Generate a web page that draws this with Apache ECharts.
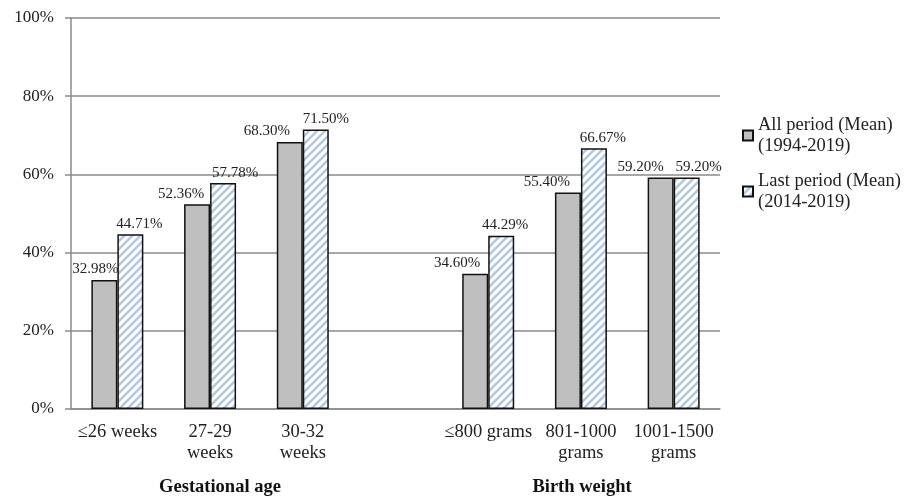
<!DOCTYPE html>
<html lang="en">
<head>
    <meta charset="UTF-8">
    <title>Survival by gestational age and birth weight</title>
    <script src="https://cdn.jsdelivr.net/npm/echarts@6/dist/echarts.min.js"></script>
    <style>
        body {
            padding: 0;
            margin: 0;
            border: none;
            background: #fff;
        }
    </style>
</head>
<body>
<div style="width: 909px;height: 499px;" id="ec"></div>
<script>
    // 数据
    const categories = ['≤26 weeks', '27-29\nweeks', '30-32\nweeks', '', '≤800 grams', '801-1000\ngrams', '1001-1500\ngrams'];
    const allPeriod = [32.98, 52.36, 68.30, null, 34.60, 55.40, 59.20];
    const lastPeriod = [44.71, 57.78, 71.50, null, 44.29, 66.67, 59.20];
    const seriesNames = ['All period (Mean)\n(1994-2019)', 'Last period (Mean)\n(2014-2019)'];
    const yTicks = [0, 20, 40, 60, 80, 100];

    // 标签左右偏移 (避免重叠)
    const shiftAll = [-9, -16, -23, 0, -18, -21, -20];
    const shiftLast = [9, 12, 10, 0, 4, 9, 12];

    const font = 'Liberation Serif';

    // 斜线填充
    function hatch() {
        let s = 8;
        let c = document.createElement('canvas');
        c.width = s;
        c.height = s;
        let ctx = c.getContext('2d');
        ctx.fillStyle = '#fff';
        ctx.fillRect(0, 0, s, s);
        ctx.strokeStyle = '#b4c8e2';
        ctx.lineWidth = 2.6;
        ctx.beginPath();
        ctx.moveTo(-1, s + 1); ctx.lineTo(s + 1, -1);
        ctx.moveTo(-1, 1); ctx.lineTo(1, -1);
        ctx.moveTo(s - 1, s + 1); ctx.lineTo(s + 1, s - 1);
        ctx.stroke();
        return c;
    }

    function withLabels(values, shifts) {
        return values.map((v, i) => v === null ? '-' : {
            value: v,
            label: {offset: [shifts[i], 0]}
        });
    }

    let ec = echarts.init(document.getElementById('ec'));
    let labelStyle = {
        show: true,
        position: 'top',
        distance: 3,
        fontFamily: font,
        fontSize: 15,
        color: '#222',
        formatter: p => p.value.toFixed(2) + '%'
    };
    let option = {
        animation: false,
        backgroundColor: '#fff',
        grid: {
            left: 71,
            right: 189,
            top: 18,
            bottom: 90
        },
        legend: {
            orient: 'vertical',
            left: 737,
            top: 99,
            itemWidth: 10,
            itemHeight: 10,
            itemGap: -7,
            icon: 'rect',
            textStyle: {
                fontFamily: font,
                fontSize: 18.5,
                lineHeight: 21,
                color: '#222',
                padding: [21, 0, 0, 0]
            },
            data: seriesNames
        },
        xAxis: {
            type: 'category',
            data: categories,
            axisTick: {show: false},
            axisLine: {lineStyle: {color: '#8a8a8a', width: 1.5}},
            axisLabel: {
                interval: 0,
                margin: 13,
                fontFamily: font,
                fontSize: 18.5,
                lineHeight: 21,
                color: '#222'
            }
        },
        yAxis: {
            type: 'value',
            min: yTicks[0],
            max: yTicks[yTicks.length - 1],
            interval: yTicks[1] - yTicks[0],
            axisLine: {show: true, lineStyle: {color: '#8a8a8a', width: 1.5}},
            axisTick: {show: true, length: 6, lineStyle: {color: '#8a8a8a', width: 1.5}},
            splitLine: {lineStyle: {color: '#8a8a8a', width: 1.5}},
            axisLabel: {
                margin: 17,
                fontFamily: font,
                fontSize: 17,
                color: '#222',
                formatter: '{value}%'
            }
        },
        series: [
            {
                name: seriesNames[0],
                type: 'bar',
                barWidth: 26,
                barGap: '0%',
                itemStyle: {color: '#bfbfbf', borderColor: '#111', borderWidth: 1.5},
                label: labelStyle,
                data: withLabels(allPeriod, shiftAll)
            },
            {
                name: seriesNames[1],
                type: 'bar',
                barWidth: 26,
                barGap: '0%',
                itemStyle: {color: {image: hatch(), repeat: 'repeat'}, borderColor: '#111', borderWidth: 1.5},
                label: labelStyle,
                data: withLabels(lastPeriod, shiftLast)
            }
        ],
        graphic: [
            {
                type: 'text',
                x: 220,
                y: 487,
                style: {
                    text: 'Gestational age',
                    font: 'bold 18.5px "Liberation Serif"',
                    fill: '#111',
                    align: 'center',
                    verticalAlign: 'middle'
                }
            },
            {
                type: 'text',
                x: 582,
                y: 487,
                style: {
                    text: 'Birth weight',
                    font: 'bold 18.5px "Liberation Serif"',
                    fill: '#111',
                    align: 'center',
                    verticalAlign: 'middle'
                }
            }
        ]
    };
    ec.setOption(option);
</script>
</body>
</html>
